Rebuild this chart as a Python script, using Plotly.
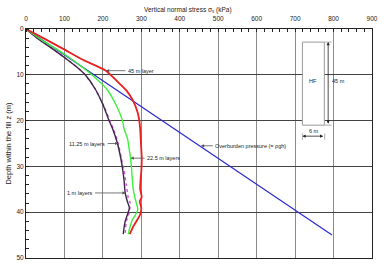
import plotly.graph_objects as go

# ---- data ----
z_red = [0, 2.2, 4.4, 6.6, 9.1, 11.65, 13.5, 15.6, 18.1, 19.6, 21.75, 25, 28.2, 31, 33, 35, 36.7, 37.6, 39.1, 40.5, 41.6, 43, 44.8]
s_red = [0, 50, 98, 145, 208, 240, 262, 278, 290, 294, 297, 299, 301, 300, 298, 297, 301, 296, 300, 297, 290, 280, 270]

z_green = [0, 2.5, 4.5, 6.6, 8.3, 10, 13.1, 16.7, 20, 21.75, 23.9, 26, 28.2, 31, 33.3, 35, 36.7, 38, 39.4, 40.5, 41.6, 43.4, 44.8]
s_green = [0, 42, 82, 119, 146, 171, 210, 235, 251, 255, 264, 268, 272, 275, 277, 279, 283, 287, 291, 285, 277, 270, 266]

z_dark = [0, 2.27, 4.5, 6.6, 8.3, 10, 13.1, 16.7, 20, 21.75, 25, 28, 30.4, 33, 35.8, 37.5, 39.1, 40.5, 42, 43.4, 44.8]
s_dark = [0, 33.5, 72, 106, 132, 154, 180, 201, 216, 225, 238, 246, 251, 255, 258, 263, 269, 264, 258, 255, 253]

z_mag = [0, 2.27, 4.5, 6.6, 8.3, 10, 13.1, 16.7, 20, 21.75, 25, 28.2, 31, 34, 36.9, 38, 40.2, 42, 43.4, 44.8]
s_mag = [0, 33.5, 72, 106, 132, 154, 180, 202, 218, 227, 240, 248, 255, 261, 266, 271, 268, 261, 259, 258]

z_over = [0, 45]
s_over = [0, 796]

x_ticks = [0, 100, 200, 300, 400, 500, 600, 700, 800, 900]
y_ticks = [0, 10, 20, 30, 40, 50]

FONT = "Liberation Sans, Arial, sans-serif"

fig = go.Figure()
fig.add_trace(go.Scatter(x=s_over, y=z_over, mode="lines", line=dict(color="#2a2ad0", width=1.2)))
fig.add_trace(go.Scatter(x=s_mag, y=z_mag, mode="lines", line=dict(color="#d050e0", width=1.4, dash="dot", shape="spline", smoothing=0.6)))
fig.add_trace(go.Scatter(x=s_dark, y=z_dark, mode="lines", line=dict(color="#3c2648", width=1.4, shape="spline", smoothing=0.6)))
fig.add_trace(go.Scatter(x=s_green, y=z_green, mode="lines", line=dict(color="#3cf03c", width=1.4, shape="spline", smoothing=0.6)))
fig.add_trace(go.Scatter(x=s_red, y=z_red, mode="lines", line=dict(color="#e82020", width=1.8, shape="spline", smoothing=0.6)))

def label(text, x, y, ax):
    fig.add_annotation(x=x, y=y, ax=ax, ay=0, text=text, showarrow=True,
                       arrowhead=2, arrowsize=0.8, arrowwidth=0.8, arrowcolor="#555",
                       font=dict(family=FONT, size=5.5, color="#222"), standoff=0, startstandoff=1)

label("45 m layer", 208, 9.1, 35)
label("22.5 m layers", 272, 28.2, 33)
label("11.25 m layers", 240, 25, -31)
label("1 m layers", 259, 35.8, -46)
label("Overburden pressure (= \u03c1gh)", 455, 25.5, 50)

# HF schematic
fig.add_shape(type="rect", x0=719, x1=776, y0=2.86, y1=21.0, line=dict(color="#999", width=1), fillcolor="white", layer="above")
fig.add_annotation(x=747, y=11.4, text="HF", showarrow=False, font=dict(family=FONT, size=5.5, color="#222"))
fig.add_shape(type="line", x0=776, x1=795, y0=2.86, y1=2.86, line=dict(color="#999", width=0.8))
fig.add_shape(type="line", x0=776, x1=795, y0=21.0, y1=21.0, line=dict(color="#999", width=0.8))
fig.add_annotation(x=786, y=2.86, ax=786, ay=21.0, axref="x", ayref="y", text="", showarrow=True,
                   arrowhead=2, arrowside="end+start", arrowsize=0.8, arrowwidth=0.8, arrowcolor="#222")
fig.add_annotation(x=812, y=11.4, text="45 m", showarrow=False, font=dict(family=FONT, size=5.5, color="#222"))
fig.add_shape(type="line", x0=719, x1=719, y0=22.8, y1=24.2, line=dict(color="#999", width=0.8))
fig.add_shape(type="line", x0=777, x1=777, y0=22.8, y1=24.2, line=dict(color="#999", width=0.8))
fig.add_annotation(x=719, y=23.4, ax=777, ay=23.4, axref="x", ayref="y", text="", showarrow=True,
                   arrowhead=2, arrowside="end+start", arrowsize=0.8, arrowwidth=0.8, arrowcolor="#222")
fig.add_annotation(x=748, y=22.3, text="6 m", showarrow=False, font=dict(family=FONT, size=5.5, color="#222"))

# top axis title (placed to match reference position)
fig.add_annotation(x=(190 - 26) / 350, y=1, xref="paper", yref="paper", yshift=19, yanchor="middle",
                   text="Vertical normal stress \u03c3<sub>v</sub> (kPa)", showarrow=False,
                   font=dict(family=FONT, size=6.5, color="#222"))

fig.update_layout(
    width=384, height=267, margin=dict(l=26, r=8, t=29, b=6),
    paper_bgcolor="white", plot_bgcolor="white", showlegend=False,
    font=dict(family=FONT, size=6.5, color="#222"),
    xaxis=dict(side="top", range=[0, 900], tickvals=x_ticks, ticktext=[str(v) for v in x_ticks],
               showgrid=True, gridcolor="#8a8a8a", gridwidth=1, zeroline=False,
               showline=True, linecolor="#222", linewidth=1, mirror=True, ticks="", ticklabelstandoff=4,
               minor=dict(dtick=20, ticks="inside", ticklen=3, tickcolor="#222", showgrid=False),
               tickfont=dict(size=6.5), fixedrange=True),
    yaxis=dict(range=[50, 0], tickvals=y_ticks, ticktext=[str(v) for v in y_ticks],
               showgrid=True, gridcolor="#444", gridwidth=1, zeroline=False,
               showline=True, linecolor="#222", linewidth=1, mirror=True, ticks="",
               minor=dict(dtick=2, ticks="inside", ticklen=3, tickcolor="#222", showgrid=False),
               title=dict(text="Depth within the fill z (m)", font=dict(size=7.5), standoff=3),
               tickfont=dict(size=6.5), fixedrange=True),
)

fig.write_html("out.html")
